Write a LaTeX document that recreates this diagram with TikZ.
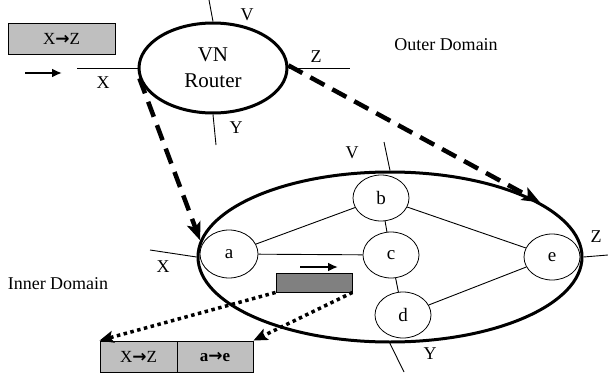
\documentclass[tikz,border=0pt]{standalone}
\usepackage{fontspec}
\setmainfont{Liberation Serif}
\newfontfamily\arrowfont{DejaVu Sans}
\usetikzlibrary{shapes.geometric,arrows.meta}
\begin{document}
\begin{tikzpicture}[x=1pt,y=-1pt,
  lbl/.style={font=\fontsize{18}{20}\selectfont, inner sep=0pt},
  inode/.style={draw, ellipse, line width=0.8pt, minimum width=56pt, minimum height=46pt, inner sep=0pt, font=\fontsize{19}{21}\selectfont},
  port/.style={line width=0.9pt},
  bigdash/.style={line width=4.5pt, dash pattern=on 16pt off 9pt, -{Stealth[length=18pt,width=14pt,inset=4pt]}},
  dotarrow/.style={line width=3.5pt, dash pattern=on 3.5pt off 3.5pt, -{Stealth[length=14pt,width=12pt,inset=3pt]}},
  pkt/.style={draw, line width=0.9pt, fill=gray!50, minimum height=31pt, inner sep=0pt, font=\fontsize{17}{19}\selectfont},
  flow/.style={line width=2.8pt, -{Latex[length=10pt,width=9pt]}}]
\useasboundingbox (0,0) rectangle (608,375);

% outer domain
\node[pkt, minimum width=107pt] (hdr) at (61.5,38.5) {X{\arrowfont\bfseries →}Z};
\coordinate (fs) at (25,73);
\coordinate (fe) at (62,73);
\draw[flow] (fs) -- (fe);

\node[draw, ellipse, line width=3pt, minimum width=148pt, minimum height=90pt, inner sep=0pt, align=center, font=\fontsize{21}{26}\selectfont] (vn) at (213,68) {VN\\Router};
\coordinate (vx) at (77,68);
\coordinate (vz) at (350,68);
\coordinate (vv) at (209,0);
\coordinate (vy) at (216,145);
\draw[port] (vx) -- (vn.west);
\draw[port] (vn.east) -- (vz);
\draw[port] (vv) -- (vn.north);
\draw[port] (vn.south) -- (vy);
\node[lbl] (lx1) at (103,83) {X};
\node[lbl] (lz1) at (316,57) {Z};
\node[lbl] (lv1) at (247,15) {V};
\node[lbl] (ly1) at (236,128) {Y};
\node[lbl] (outer) at (446,45) {Outer Domain};

% inner domain
\node[draw, ellipse, line width=3pt, minimum width=384pt, minimum height=170pt, inner sep=0pt] (big) at (390,257) {};
\node[inode, minimum width=58pt, minimum height=48pt] (a) at (229,254) {a};
\node[inode] (b) at (381,198) {b};
\node[inode] (c) at (391,255) {c};
\node[inode] (d) at (403,315) {d};
\node[inode] (e) at (552,257) {e};
\draw[port] (a) -- (b);
\draw[port] (a) -- (c);
\draw[port] (b) -- (c);
\draw[port] (c) -- (d);
\draw[port] (b) -- (e);
\draw[port] (d) -- (e);

\coordinate (ix) at (150,250);
\coordinate (iz) at (608,255);
\coordinate (iv) at (384,142);
\coordinate (iy) at (404,372);
\draw[port] (ix) -- (big.west);
\draw[port] (big.east) -- (iz);
\draw[port] (iv) -- (big.north);
\draw[port] (big.south) -- (iy);
\node[lbl] (lx2) at (163,267) {X};
\node[lbl] (lz2) at (596,237) {Z};
\node[lbl] (lv2) at (352,153) {V};
\node[lbl] (ly2) at (430,354) {Y};
\node[lbl] (inner) at (58,284) {Inner Domain};

% packet in transit
\node[draw, line width=0.9pt, fill=black!50, minimum width=76pt, minimum height=19pt, inner sep=0pt] (pk) at (314,282.5) {};
\coordinate (ps) at (300,267);
\coordinate (pe) at (338,267);
\draw[flow] (ps) -- (pe);

% encapsulated header
\node[pkt, minimum width=77pt] (h1) at (138.5,356.5) {X{\arrowfont\bfseries →}Z};
\node[pkt, minimum width=76pt, font=\bfseries\fontsize{17}{19}\selectfont] (h2) at (215,356.5) {a{\arrowfont\bfseries →}e};

% mapping arrows
\draw[bigdash] (vn.188) -- (big.175);
\draw[bigdash] (vn.2) -- (big.20);
\draw[dotarrow] (pk.south west) -- (h1.north west);
\draw[dotarrow] (pk.south east) -- (h2.north east);
\end{tikzpicture}
\end{document}
